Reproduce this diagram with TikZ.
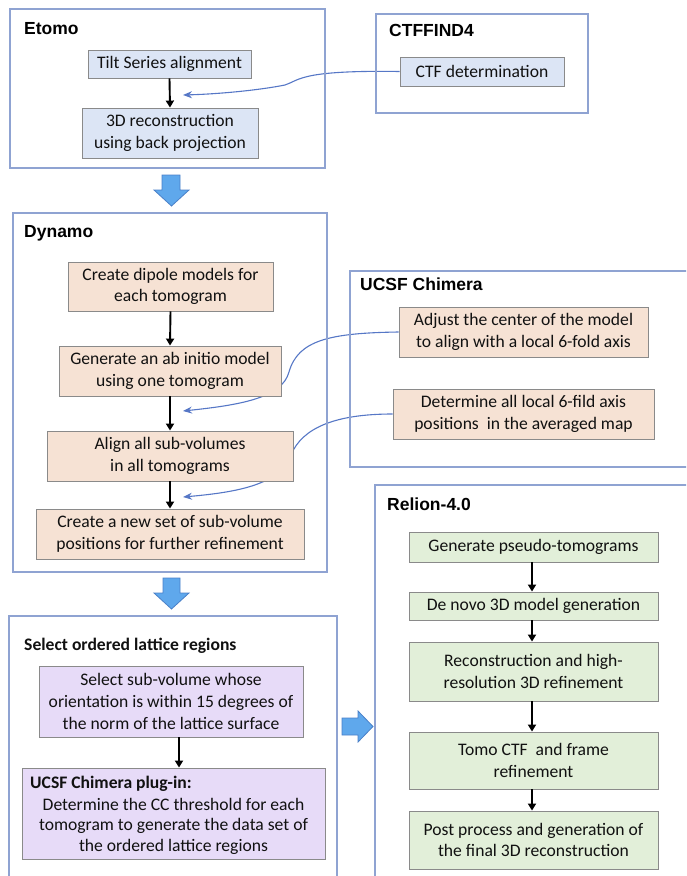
\documentclass[tikz,border=0pt]{standalone}
\usepackage{fontspec}
\setmainfont{Carlito}
\newfontfamily\titlefont{Liberation Sans}
\usetikzlibrary{arrows.meta,backgrounds}
\definecolor{frame}{HTML}{8FA3D2}
\definecolor{boxline}{HTML}{8A8A8A}
\definecolor{bluefill}{HTML}{DCE5F5}
\definecolor{peach}{HTML}{F6E2D4}
\definecolor{lav}{HTML}{E7DBF8}
\definecolor{greenf}{HTML}{E2EFD9}
\definecolor{blockfill}{HTML}{5FA8EC}
\definecolor{blockline}{HTML}{4A80C8}
\definecolor{curvec}{HTML}{5677C6}
\definecolor{txt}{HTML}{111111}
\begin{document}
\begin{tikzpicture}[x=1pt,y=-1pt,
  container/.style={draw=frame,line width=1.1pt,inner sep=0,fill=none},
  title/.style={anchor=base west,inner sep=0,font=\titlefont\bfseries\fontsize{17.5}{21}\selectfont},
  subtitle/.style={anchor=base west,inner sep=0,text=txt,font=\bfseries\fontsize{17.6}{21}\selectfont},
  stepbox/.style={draw=boxline,line width=0.9pt,inner sep=0,align=center,text=txt,font=\fontsize{17.6}{21.7}\selectfont},
  bluebox/.style={stepbox,fill=bluefill},
  peachbox/.style={stepbox,fill=peach},
  lavbox/.style={stepbox,fill=lav},
  greenbox/.style={stepbox,fill=greenf},
  flow/.style={line width=1.9pt,-{Triangle[length=7pt,width=8pt]}},
  link/.style={draw=curvec,line width=1.1pt,-{Stealth[length=9pt,width=7pt]}},
  block/.style={draw=blockline,line width=0.8pt,fill=blockfill,line join=miter}
]
\path[use as bounding box,clip] (0,0) rectangle (686,876);

% containers
\node[container,minimum width=315pt,minimum height=159pt] (etomo) at (167.5,88.5) {};
\node[container,minimum width=212pt,minimum height=99pt] (ctffind) at (482,63.5) {};
\node[container,minimum width=314pt,minimum height=359pt] (dynamo) at (170,392.5) {};
\node[container,minimum width=360pt,minimum height=196pt] (chimera) at (530,369) {};
\node[container,minimum width=328pt,minimum height=290pt] (select) at (173,761) {};
\node[container,minimum width=330pt,minimum height=420pt] (relion) at (540,695) {};

% titles
\node[title] (tEtomo) at (24,34.3) {Etomo};
\node[title] (tCtf) at (389,36) {CTFFIND4};
\node[title] (tDynamo) at (24,237) {Dynamo};
\node[title] (tChimera) at (360,290.5) {UCSF Chimera};
\node[title] (tRelion) at (387,510.5) {Relion-4.0};
\node[subtitle] (tSelect) at (24,650) {Select ordered lattice regions};

% Etomo
\node[bluebox,minimum width=163pt,minimum height=28pt] (tilt) at (169.5,64) {Tilt Series alignment};
\node[bluebox,minimum width=176pt,minimum height=50pt] (recon) at (170,133) {3D reconstruction\\using back projection};
\node[bluebox,minimum width=164pt,minimum height=29pt] (ctf) at (482,71.5) {CTF determination};

% Dynamo
\node[peachbox,minimum width=205pt,minimum height=49pt] (dipole) at (170.5,286.5) {Create dipole models for\\each tomogram};
\node[peachbox,minimum width=222pt,minimum height=50pt] (abinitio) at (170,371) {Generate an ab initio model\\using one tomogram};
\node[peachbox,minimum width=246pt,minimum height=50pt] (alignall) at (170,456) {Align all sub-volumes\\in all tomograms};
\node[peachbox,minimum width=268pt,minimum height=50pt] (newset) at (170,534) {Create a new set of sub-volume\\positions for further refinement};

% Chimera
\node[peachbox,minimum width=249pt,minimum height=50pt] (adjust) at (523.5,332) {Adjust the center of the model\\to align with a local 6-fold axis};
\node[peachbox,minimum width=261pt,minimum height=50pt] (determine) at (523.5,414) {Determine all local 6-fild axis\\positions\ \ in the averaged map};

% Select
\node[lavbox,minimum width=264pt,minimum height=71pt] (selsub) at (171,701.5) {Select sub-volume whose\\orientation is within 15 degrees of\\the norm of the lattice surface};
\node[lavbox,minimum width=303pt,minimum height=91pt] (plugin) at (173.5,813.5) {};
\node[subtitle] (tPlugin) at (30,788) {UCSF Chimera plug-in:};
\node[inner sep=0,align=center,text=txt,font=\fontsize{17.6}{20.5}\selectfont] (pluginText) at (173.5,826) {Determine the CC threshold for each\\tomogram to generate the data set of\\the ordered lattice regions};

% Relion
\node[greenbox,minimum width=249pt,minimum height=30pt] (pseudo) at (533.5,547) {Generate pseudo-tomograms};
\node[greenbox,minimum width=249pt,minimum height=28pt] (denovo) at (533.5,606) {De novo 3D model generation};
\node[greenbox,minimum width=249pt,minimum height=59pt] (reconhr) at (533.5,671.5) {Reconstruction and high-\\resolution 3D refinement};
\node[greenbox,minimum width=249pt,minimum height=57pt] (tomoctf) at (533.5,760.5) {Tomo CTF\ \ and frame\\refinement};
\node[greenbox,minimum width=249pt,minimum height=58pt] (post) at (533.5,840) {Post process and generation of\\the final 3D reconstruction};

% black flow arrows
\draw[flow] (tilt.south) -- (recon.north);
\draw[flow] (dipole.south) -- (abinitio.north);
\draw[flow] (abinitio.south) -- (alignall.north);
\draw[flow] (alignall.south) -- (newset.north);
\coordinate (selx) at (179,0);
\draw[flow] (selsub.south -| selx) -- (plugin.north -| selx);
\coordinate (relx) at (532,0);
\draw[flow] (pseudo.south -| relx) -- (denovo.north -| relx);
\draw[flow] (denovo.south -| relx) -- (reconhr.north -| relx);
\draw[flow] (reconhr.south -| relx) -- (tomoctf.north -| relx);
\draw[flow] (tomoctf.south -| relx) -- (post.north -| relx);

% blue curved links
\coordinate (e1) at (183,95);
\coordinate (e2) at (183,411);
\coordinate (e3) at (183,497);
\begin{scope}[on background layer]
\draw[link] (ctf.west) .. controls (300,70) and (300,80) .. (285,85) .. controls (260,90) and (220,94) .. (e1);
\draw[link] (adjust.west) .. controls (330,333) and (298,340) .. (289,372) .. controls (282,398) and (240,405) .. (e2);
\draw[link] (determine.west) .. controls (335,414) and (302,428) .. (291,455) .. controls (280,484) and (240,492) .. (e3);
\end{scope}

% block arrows
\draw[block] (162,175) -- (180,175) -- (180,190) -- (189,190) -- (171.5,206) -- (154,190) -- (162,190) -- cycle;
\draw[block] (163,578) -- (180,578) -- (180,593) -- (189,593) -- (171.5,609) -- (154,593) -- (163,593) -- cycle;
\draw[block] (342,718) -- (358,718) -- (358,711) -- (373,726.5) -- (358,742) -- (358,735) -- (342,735) -- cycle;
\end{tikzpicture}
\end{document}
